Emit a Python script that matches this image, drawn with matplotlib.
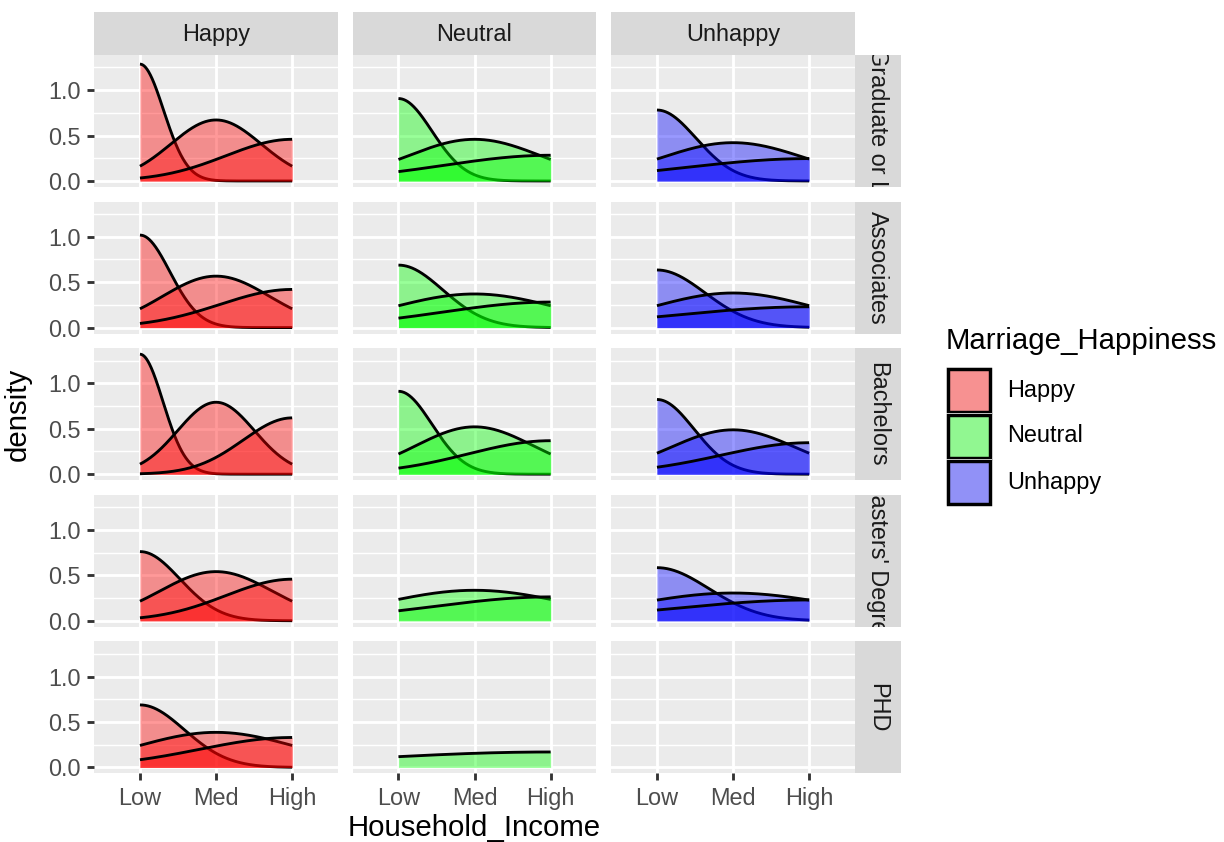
import numpy as np
import matplotlib
matplotlib.use("Agg")
import matplotlib.pyplot as plt
from matplotlib.patches import Rectangle
from matplotlib.ticker import FixedLocator

plt.rcParams["font.family"] = ["Liberation Sans", "DejaVu Sans"]

# ---------------- data ----------------
education = ["Graduate or L", "Associates", "Bachelors", "Masters' Degree", "PHD"]
happiness = ["Happy", "Neutral", "Unhappy"]
income_levels = ["Low", "Med", "High"]

# number of respondents per (education, income level) for each happiness group
happy_counts = [[206, 256, 289],
                [64, 109, 186],
                [235, 583, 1301],
                [15, 87, 286],
                [9, 16, 55]]
neutral_counts = [[36, 38, 26],
                  [9, 13, 25],
                  [37, 72, 97],
                  [0, 8, 18],
                  [0, 0, 2]]
unhappy_counts = [[17, 25, 13],
                  [6, 15, 9],
                  [22, 52, 71],
                  [4, 5, 9],
                  [0, 0, 0]]
counts_by_happiness = [happy_counts, neutral_counts, unhappy_counts]
fill_colors = ["#FF0000", "#00FF00", "#0000FF"]

# ---------------- stat_density (R's density with bw.nrd0) ----------------
def bw_nrd0(x):
    x = np.asarray(x, float)
    hi = np.std(x, ddof=1)
    q75, q25 = np.percentile(x, [75, 25])
    lo = min(hi, (q75 - q25) / 1.34)
    if not lo:
        lo = hi or abs(x[0]) or 1.0
    return 0.9 * lo * len(x) ** -0.2

def kde(x, grid):
    bw = bw_nrd0(x)
    vals, cnt = np.unique(x, return_counts=True)
    z = (grid[:, None] - vals[None, :]) / bw
    return (np.exp(-0.5 * z ** 2) * cnt).sum(1) / (len(x) * bw * np.sqrt(2 * np.pi))

positions = np.arange(1, len(income_levels) + 1)
grid = np.linspace(positions[0], positions[-1], 512)

curves = {}
ymax = 0.0
for r in range(len(education)):
    for c in range(len(happiness)):
        lst = []
        for k, pos in enumerate(positions):
            n = counts_by_happiness[c][r][k]
            if n >= 2:
                d = kde(np.repeat(float(pos), n), grid)
                lst.append(d)
                ymax = max(ymax, d.max())
        curves[(r, c)] = lst
ymin = 0.0
yexp = 0.05 * (ymax - ymin)
ylim = (ymin - yexp, ymax + yexp)
xlim = (positions[0] - 0.6, positions[-1] + 0.6)

# ---------------- figure / layout (pixels) ----------------
W, H, DPI = 1224, 842, 192
fig = plt.figure(figsize=(W / DPI, H / DPI), dpi=DPI)
fig.patch.set_facecolor("white")

def px_axes(x, y, w, h, **kw):
    return fig.add_axes([x / W, 1 - (y + h) / H, w / W, h / H], **kw)

PANEL_L, PANEL_W, GAP_X = 94.3, 243.5, 15.0
PANEL_T, PANEL_H, GAP_Y = 55.0, 132.0, 14.6
STRIP = 43.5
LW = 1.07

TICK_COL = "#333333"
TXT_COL = "#4D4D4D"
STRIP_BG = "#D9D9D9"
PANEL_BG = "#EBEBEB"

nrows, ncols = len(education), len(happiness)
for r in range(nrows):
    for c in range(ncols):
        x0 = PANEL_L + c * (PANEL_W + GAP_X)
        y0 = PANEL_T + r * (PANEL_H + GAP_Y)
        ax = px_axes(x0, y0, PANEL_W, PANEL_H)
        ax.set_facecolor(PANEL_BG)
        for s in ax.spines.values():
            s.set_visible(False)
        ax.set_xlim(*xlim)
        ax.set_ylim(*ylim)
        ax.set_xticks(positions)
        ax.set_xticklabels(income_levels)
        ax.set_yticks([0.0, 0.5, 1.0])
        ax.set_yticklabels(["0.0", "0.5", "1.0"])
        ax.yaxis.set_minor_locator(FixedLocator([0.25, 0.75, 1.25]))
        ax.set_axisbelow(True)
        ax.grid(True, which="minor", axis="y", color="white", lw=LW / 2)
        ax.grid(True, which="major", color="white", lw=LW)
        ax.tick_params(which="minor", length=0)
        ax.tick_params(which="major", length=2.75, width=LW, color=TICK_COL,
                       labelcolor=TXT_COL, labelsize=8.8, pad=2.2)
        if c != 0:
            ax.tick_params(axis="y", which="major", length=0, labelleft=False)
        if r != nrows - 1:
            ax.tick_params(axis="x", which="major", length=0, labelbottom=False)

        for k, d in enumerate(curves[(r, c)]):
            ax.fill_between(grid, 0, d, color=fill_colors[c], alpha=0.4,
                            lw=0, zorder=2 + 2 * k)
            ax.plot(grid, d, color="black", lw=LW, zorder=3 + 2 * k,
                    solid_capstyle="butt")

        # top strips
        if r == 0:
            sax = px_axes(x0, PANEL_T - STRIP, PANEL_W, STRIP)
            sax.set_facecolor(STRIP_BG)
            sax.set_xticks([]); sax.set_yticks([])
            for s in sax.spines.values():
                s.set_visible(False)
            sax.text(0.5, 0.46, happiness[c], ha="center", va="center",
                     fontsize=8.8, color="#1A1A1A", transform=sax.transAxes)
    # right strips
    xr = PANEL_L + ncols * PANEL_W + (ncols - 1) * GAP_X
    yr = PANEL_T + r * (PANEL_H + GAP_Y)
    rax = px_axes(xr, yr, 46, PANEL_H)
    rax.set_facecolor(STRIP_BG)
    rax.set_xticks([]); rax.set_yticks([])
    for s in rax.spines.values():
        s.set_visible(False)
    t = rax.text(0.5, 0.5, education[r], ha="center", va="center", rotation=-90,
                 fontsize=8.8, color="#1A1A1A", transform=rax.transAxes)
    t.set_clip_on(True)

# axis titles
total_w = ncols * PANEL_W + (ncols - 1) * GAP_X
total_h = nrows * PANEL_H + (nrows - 1) * GAP_Y
fig.text((PANEL_L + total_w / 2) / W, 1 - 828 / H, "Household_Income",
         ha="center", va="center", fontsize=11, color="black")
fig.text(18 / W, 1 - (PANEL_T + total_h / 2) / H, "density", rotation=90,
         ha="center", va="center", fontsize=11, color="black")

# legend
lax = px_axes(0, 0, W, H)
lax.set_xlim(0, W); lax.set_ylim(H, 0)
lax.axis("off")
lax.patch.set_alpha(0)
lax.text(946, 341, "Marriage_Happiness", ha="left", va="center", fontsize=11,
         color="black")
key_y0, key = 367, 46
for i, lab in enumerate(happiness):
    y = key_y0 + i * key
    lax.add_patch(Rectangle((946, y), 46, key, facecolor="#F2F2F2", lw=0))
    lax.add_patch(Rectangle((947.5, y + 1.5), 42.5, key - 3,
                            facecolor=fill_colors[i], alpha=0.4, lw=0))
    lax.add_patch(Rectangle((947.5, y + 1.5), 42.5, key - 3, facecolor="none",
                            edgecolor="black", lw=LW * 1.2))
    lax.text(1007, y + key / 2, lab, ha="left", va="center", fontsize=8.8,
             color="black")

fig.savefig("out.png", dpi=DPI, facecolor="white")
